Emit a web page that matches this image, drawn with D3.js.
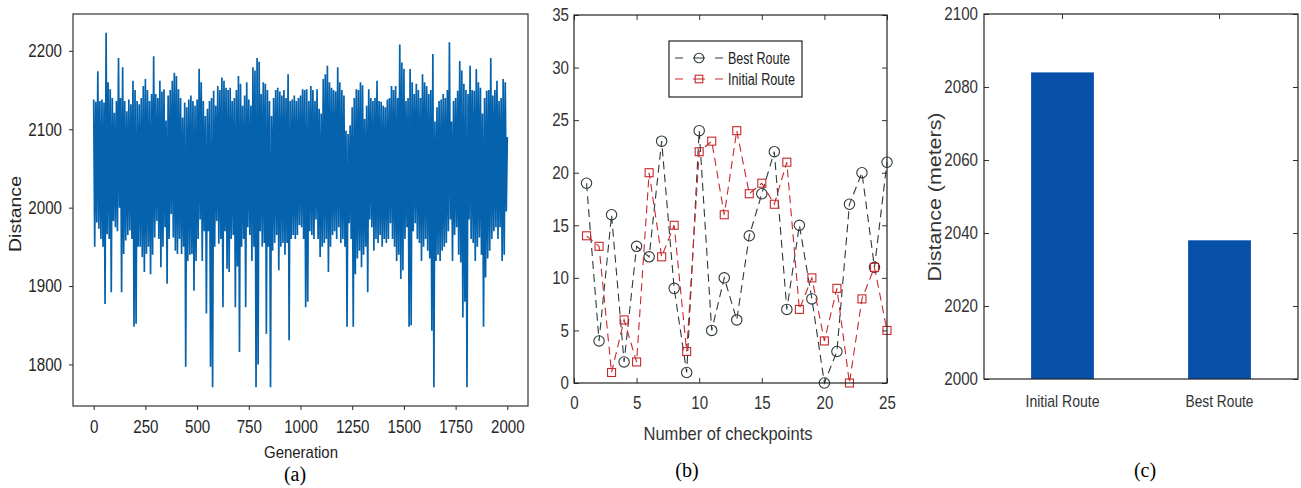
<!doctype html>
<html>
<head>
  <script src="https://d3js.org/d3.v7.min.js"></script>
  <style>
    body { margin: 0; background: #fff; }
    text { font-family: "Liberation Sans Narrow", "Arial Narrow", "Liberation Sans", sans-serif; }
    .serif { font-family: "Liberation Serif", "Times New Roman", serif; }
  </style>
</head>
<body>
<script>

  // (a) distance per generation: local highs at gen 0,10,20..., local lows at gen 5,15,25...
  var genStep = 10;
  var upperVals = [
    2138,2135,2174,2136,2138,2134,2223,2160,2151,2140,
    2121,2136,2191,2140,2179,2136,2123,2138,2132,2162,
    2150,2136,2132,2140,2155,2164,2150,2136,2145,2193,
    2145,2140,2162,2148,2151,2111,2143,2150,2162,2172,
    2168,2151,2140,2115,2134,2128,2138,2143,2136,2130,
    2138,2177,2160,2136,2117,2126,2136,2140,2149,2130,
    2155,2150,2166,2162,2153,2150,2153,2136,2140,2150,
    2168,2158,2130,2143,2160,2138,2130,2179,2175,2191,
    2186,2145,2160,2158,2150,2136,2117,2140,2150,2153,
    2148,2143,2150,2140,2170,2136,2138,2143,2136,2140,
    2143,2151,2150,2151,2136,2155,2150,2136,2151,2126,
    2120,2164,2170,2181,2160,2153,2150,2148,2179,2160,
    2150,2143,2098,2094,2105,2128,2140,2151,2150,2160,
    2156,2113,2130,2151,2140,2136,2140,2162,2136,2135,
    2130,2128,2138,2140,2155,2150,2155,2140,2208,2185,
    2177,2136,2140,2177,2160,2145,2158,2150,2140,2170,
    2160,2155,2145,2150,2196,2110,2128,2136,2138,2145,
    2140,2150,2211,2110,2136,2140,2149,2187,2175,2158,
    2150,2145,2181,2150,2149,2177,2160,2153,2120,2140,
    2149,2150,2191,2143,2150,2162,2136,2140,2164,2160
  ];
  var lowerVals = [
    1950,1981,1973,1960,1950,1877,1966,1960,1892,1983,
    1975,1970,2000,1892,1941,1958,1965,1971,1960,1848,
    1852,1950,1950,1937,1918,1941,1950,1915,1940,1962,
    1983,1960,1924,1950,1975,1903,1960,1992,1962,1945,
    1941,1960,1941,1950,1797,1932,1940,1941,1894,1932,
    1960,1985,1932,1970,1865,1970,1797,1771,1950,1983,
    1954,1960,1873,1970,1922,1918,1960,1965,1873,1925,
    1816,1950,1960,1873,1975,1965,1932,1950,1771,1800,
    1970,1950,1955,1839,1950,1771,1945,1955,1965,1920,
    1950,1955,1940,1955,1831,1960,1965,1960,1965,1978,
    1975,1960,1873,1880,1970,1965,1960,1985,1960,1937,
    1950,1955,1960,1918,1950,1965,1970,1960,1975,1955,
    1960,1950,1848,1980,1960,1848,1915,1935,1945,1924,
    1940,1950,1892,1985,1975,1945,1960,1955,1965,1950,
    1960,1955,1960,1980,1960,1950,1932,1940,1909,1920,
    1960,1975,1848,1850,1970,1980,1960,1955,1932,1950,
    1960,1945,1935,1843,1771,1932,1940,1932,1945,1950,
    1955,1970,1985,1932,1965,1975,1940,1930,1860,1880,
    1771,1985,1960,1955,1932,1950,1962,1940,1848,1911,
    1935,1945,1960,1970,1975,1960,1975,1932,1940,1995
  ];
  var lastGen = 2000, lastVal = 2090;
  var genTicks = [0, 250, 500, 750, 1000, 1250, 1500, 1750, 2000];
  var distTicks = [1800, 1900, 2000, 2100, 2200];

  // (b) checkpoints
  var checkpoints = [1,2,3,4,5,6,7,8,9,10,11,12,13,14,15,16,17,18,19,20,21,22,23,24,25];
  var bestRoute    = [19,4,16,2,13,12,23,9,1,24,5,10,6,14,18,22,7,15,8,0,3,17,20,11,21];
  var initialRoute = [14,13,1,6,2,20,12,15,3,22,23,16,24,18,19,17,21,7,10,4,9,0,8,11,5];
  var cpTicksX = [0, 5, 10, 15, 20, 25];
  var cpTicksY = [0, 5, 10, 15, 20, 25, 30, 35];

  // (c) total distance
  var routeNames = ["Initial Route", "Best Route"];
  var routeDistances = [2084, 2038];
  var meterTicks = [2000, 2020, 2040, 2060, 2080, 2100];

  var svg = d3.select("body").append("svg")
      .attr("width", 1301)
      .attr("height", 488);

  var fmt = d3.format("d");

  // squeeze text horizontally, the source figure uses a condensed face
  function squeeze(sel, k) {
    sel.each(function () {
      var w = this.getComputedTextLength();
      d3.select(this).attr("textLength", w * k).attr("lengthAdjust", "spacingAndGlyphs");
    });
  }

  function styleTicks(g, color) {
    g.select(".domain").remove();
    g.selectAll(".tick line").attr("stroke", color);
    g.selectAll(".tick text").attr("fill", color).attr("font-size", 18)
      .attr("font-family", "Liberation Sans Narrow, Arial Narrow, Liberation Sans, sans-serif")
      .call(squeeze, 0.84);
  }

  // ---------------- panel (a) ----------------
  var xA = d3.scaleLinear().domain([-100, 2100]).range([73, 528]);
  var yA = d3.scaleLinear().domain([1747, 2247]).range([406, 14]);

  var genData = [];
  upperVals.forEach(function (v, i) {
    genData.push([i * genStep, v]);
    genData.push([i * genStep + genStep / 2, lowerVals[i]]);
  });
  genData.push([lastGen, lastVal]);

  svg.append("path")
      .datum(genData)
      .attr("fill", "none")
      .attr("stroke", "#0562ad")
      .attr("stroke-width", 1.7)
      .attr("stroke-linejoin", "miter")
      .attr("d", d3.line().x(function (d) { return xA(d[0]); }).y(function (d) { return yA(d[1]); }));

  svg.append("g").attr("transform", "translate(0,406)")
      .call(d3.axisBottom(xA).tickValues(genTicks).tickFormat(fmt).tickSize(4).tickPadding(10))
      .call(styleTicks, "#262626");
  svg.append("g").attr("transform", "translate(73,0)")
      .call(d3.axisLeft(yA).tickValues(distTicks).tickFormat(fmt).tickSize(4).tickPadding(7))
      .call(styleTicks, "#262626");

  svg.append("rect").attr("x", 73).attr("y", 14).attr("width", 455).attr("height", 392)
      .attr("fill", "none").attr("stroke", "#333").attr("stroke-width", 1.2);

  svg.append("text").attr("x", 301).attr("y", 458).attr("text-anchor", "middle")
      .attr("font-size", 17).attr("fill", "#222")
      .attr("textLength", 74).attr("lengthAdjust", "spacingAndGlyphs")
      .text("Generation");
  svg.append("text").attr("transform", "translate(21,214) rotate(-90)").attr("text-anchor", "middle")
      .attr("font-size", 17).attr("fill", "#222")
      .attr("textLength", 76).attr("lengthAdjust", "spacingAndGlyphs")
      .text("Distance");
  svg.append("text").attr("class", "serif").attr("x", 295).attr("y", 481).attr("text-anchor", "middle")
      .attr("font-size", 20).attr("fill", "#000").text("(a)");

  // ---------------- panel (b) ----------------
  var xB = d3.scaleLinear().domain([0, 25]).range([574, 887]);
  var yB = d3.scaleLinear().domain([0, 35]).range([383, 15]);

  svg.append("g").attr("transform", "translate(0,383)")
      .call(d3.axisBottom(xB).tickValues(cpTicksX).tickSize(-5).tickPadding(13))
      .call(styleTicks, "#333");
  svg.append("g").attr("transform", "translate(0,15)")
      .call(d3.axisTop(xB).tickValues(cpTicksX).tickSize(-5).tickFormat(""))
      .call(styleTicks, "#333");
  svg.append("g").attr("transform", "translate(574,0)")
      .call(d3.axisLeft(yB).tickValues(cpTicksY).tickSize(-5).tickPadding(5))
      .call(styleTicks, "#333");
  svg.append("g").attr("transform", "translate(887,0)")
      .call(d3.axisRight(yB).tickValues(cpTicksY).tickSize(-5).tickFormat(""))
      .call(styleTicks, "#333");

  var series = [
    { name: "Best Route", values: bestRoute, color: "#2f3a38", shape: "circle" },
    { name: "Initial Route", values: initialRoute, color: "#c8282c", shape: "square" }
  ];

  var lineB = d3.line()
      .x(function (d, i) { return xB(checkpoints[i]); })
      .y(function (d) { return yB(d); });

  series.forEach(function (s) {
    svg.append("path")
        .datum(s.values)
        .attr("fill", "none")
        .attr("stroke", s.color)
        .attr("stroke-width", 1.1)
        .attr("stroke-dasharray", "8,5")
        .attr("d", lineB);

    var marks = svg.append("g").selectAll(".m")
        .data(s.values)
        .enter();
    if (s.shape === "circle") {
      marks.append("circle")
          .attr("cx", function (d, i) { return xB(checkpoints[i]); })
          .attr("cy", function (d) { return yB(d); })
          .attr("r", 5.2)
          .attr("fill", "none")
          .attr("stroke", s.color)
          .attr("stroke-width", 1.1);
    } else {
      marks.append("rect")
          .attr("x", function (d, i) { return xB(checkpoints[i]) - 4; })
          .attr("y", function (d) { return yB(d) - 4; })
          .attr("width", 8)
          .attr("height", 8)
          .attr("fill", "none")
          .attr("stroke", s.color)
          .attr("stroke-width", 1.1);
    }
  });

  svg.append("rect").attr("x", 574).attr("y", 15).attr("width", 313).attr("height", 368)
      .attr("fill", "none").attr("stroke", "#222").attr("stroke-width", 1.2);

  // legend
  var legend = svg.append("g");
  legend.append("rect").attr("x", 669).attr("y", 41).attr("width", 133).attr("height", 56)
      .attr("fill", "#fff").attr("stroke", "#222").attr("stroke-width", 1.2);
  series.forEach(function (s, i) {
    var ly = 58 + i * 21;
    legend.append("line").attr("x1", 675).attr("x2", 723).attr("y1", ly).attr("y2", ly)
        .attr("stroke", s.color).attr("stroke-width", 1.1)
        .attr("stroke-dasharray", "8,10,12,10,8");
    if (s.shape === "circle") {
      legend.append("circle").attr("cx", 699).attr("cy", ly).attr("r", 4.8)
          .attr("fill", "none").attr("stroke", s.color).attr("stroke-width", 1.1);
    } else {
      legend.append("rect").attr("x", 695.2).attr("y", ly - 3.8).attr("width", 7.6).attr("height", 7.6)
          .attr("fill", "none").attr("stroke", s.color).attr("stroke-width", 1.1);
    }
    legend.append("text").attr("x", 728).attr("y", ly + 5.5)
        .attr("font-size", 16).attr("fill", "#222")
        .attr("textLength", i === 0 ? 62 : 67).attr("lengthAdjust", "spacingAndGlyphs")
        .text(s.name);
  });

  svg.append("text").attr("x", 728).attr("y", 440).attr("text-anchor", "middle")
      .attr("font-size", 19).attr("fill", "#333")
      .attr("textLength", 169).attr("lengthAdjust", "spacingAndGlyphs")
      .text("Number of checkpoints");
  svg.append("text").attr("class", "serif").attr("x", 687).attr("y", 477).attr("text-anchor", "middle")
      .attr("font-size", 20).attr("fill", "#000").text("(b)");

  // ---------------- panel (c) ----------------
  var xC = d3.scaleBand().domain(routeNames).range([984, 1298])
      .paddingInner(0.6).paddingOuter(0.3);
  var yC = d3.scaleLinear().domain([2000, 2100]).range([379, 14]);

  svg.append("g").attr("transform", "translate(984,0)")
      .call(d3.axisLeft(yC).tickValues(meterTicks).tickFormat(fmt).tickSize(-5).tickPadding(6))
      .call(styleTicks, "#333");
  svg.append("g").attr("transform", "translate(1298,0)")
      .call(d3.axisRight(yC).tickValues(meterTicks).tickSize(-5).tickFormat(""))
      .call(styleTicks, "#333");
  svg.append("g").attr("transform", "translate(0,14)")
      .call(d3.axisTop(xC).tickSize(-5).tickFormat(""))
      .call(styleTicks, "#333");
  var xAxisC = svg.append("g").attr("transform", "translate(0,379)")
      .call(d3.axisBottom(xC).tickSize(0).tickPadding(16))
      .call(styleTicks, "#333");
  xAxisC.selectAll(".tick text")
      .attr("font-size", 17)
      .attr("textLength", function (d) { return d === "Initial Route" ? 74 : 68; })
      .attr("lengthAdjust", "spacingAndGlyphs");

  svg.append("g").selectAll("rect")
      .data(routeDistances)
      .enter()
      .append("rect")
      .attr("x", function (d, i) { return xC(routeNames[i]); })
      .attr("y", function (d) { return yC(d); })
      .attr("width", xC.bandwidth())
      .attr("height", function (d) { return yC(2000) - yC(d); })
      .attr("fill", "#0650aa");

  svg.append("rect").attr("x", 984).attr("y", 14).attr("width", 314).attr("height", 365)
      .attr("fill", "none").attr("stroke", "#222").attr("stroke-width", 1.2);

  svg.append("text").attr("transform", "translate(941,197) rotate(-90)").attr("text-anchor", "middle")
      .attr("font-size", 19).attr("fill", "#333")
      .attr("textLength", 169).attr("lengthAdjust", "spacingAndGlyphs")
      .text("Distance (meters)");
  svg.append("text").attr("class", "serif").attr("x", 1145).attr("y", 477).attr("text-anchor", "middle")
      .attr("font-size", 20).attr("fill", "#000").text("(c)");

</script>
</body>
</html>
